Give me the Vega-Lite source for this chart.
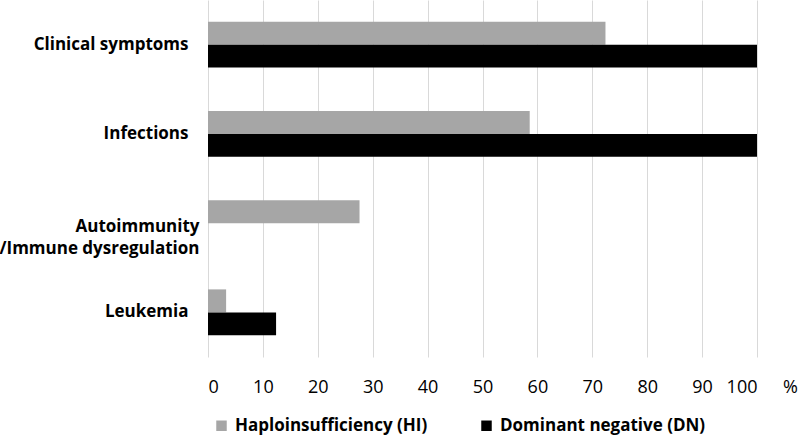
{
  "$schema": "https://vega.github.io/schema/vega-lite/v6.json",
  "width": 549,
  "height": 357,
  "autosize": {"type": "none"},
  "padding": {"left": 208, "top": 0, "right": 43, "bottom": 82},
  "background": "white",
  "config": {
    "view": {"stroke": null},
    "font": "Open Sans"
  },
  "data": {
    "values": [
      {"category": "Clinical symptoms", "series": "Haploinsufficiency (HI)", "value": 72.4},
      {"category": "Clinical symptoms", "series": "Dominant negative (DN)", "value": 100},
      {"category": "Infections", "series": "Haploinsufficiency (HI)", "value": 58.6},
      {"category": "Infections", "series": "Dominant negative (DN)", "value": 100},
      {"category": "Autoimmunity /Immune dysregulation", "series": "Haploinsufficiency (HI)", "value": 27.6},
      {"category": "Autoimmunity /Immune dysregulation", "series": "Dominant negative (DN)", "value": 0},
      {"category": "Leukemia", "series": "Haploinsufficiency (HI)", "value": 3.3},
      {"category": "Leukemia", "series": "Dominant negative (DN)", "value": 12.4}
    ]
  },
  "mark": {"type": "bar"},
  "encoding": {
    "y": {
      "field": "category",
      "type": "nominal",
      "sort": ["Clinical symptoms", "Infections", "Autoimmunity /Immune dysregulation", "Leukemia"],
      "scale": {"paddingInner": 0.485, "paddingOuter": 0.2425},
      "axis": {
        "title": null,
        "domain": false,
        "ticks": false,
        "labelFont": "Open Sans",
        "labelFontWeight": "bold",
        "labelFontSize": 17,
        "labelColor": "#000000",
        "labelLimit": 400,
        "labelLineHeight": 22,
        "labelOffset": {"condition": {"test": "datum.value == 'Autoimmunity /Immune dysregulation'", "value": 4}, "value": 0},
        "labelPadding": {"condition": {"test": "datum.value == 'Autoimmunity /Immune dysregulation'", "value": 9}, "value": 20},
        "labelExpr": "datum.value == 'Autoimmunity /Immune dysregulation' ? ['Autoimmunity\u00a0\u00a0', '/Immune dysregulation'] : datum.label"
      }
    },
    "yOffset": {
      "field": "series",
      "type": "nominal",
      "sort": ["Haploinsufficiency (HI)", "Dominant negative (DN)"],
      "scale": {"paddingInner": 0, "paddingOuter": 0}
    },
    "x": {
      "field": "value",
      "type": "quantitative",
      "scale": {"domain": [0, 100], "nice": false},
      "axis": {
        "values": [0, 10, 20, 30, 40, 50, 60, 70, 80, 90, 100],
        "grid": true,
        "gridColor": "#d9d9d9",
        "gridWidth": 1,
        "domain": false,
        "ticks": false,
        "labelFont": "Open Sans",
        "labelFontSize": 18,
        "labelColor": "#000000",
        "labelBaseline": "middle",
        "labelPadding": 30,
        "title": "%",
        "titleFont": "Open Sans",
        "titleFontSize": 18,
        "titleFontWeight": "normal",
        "titleColor": "#000000",
        "titleX": 582,
        "titleY": 30,
        "titleBaseline": "middle",
        "titleAlign": "center"
      }
    },
    "color": {
      "field": "series",
      "type": "nominal",
      "scale": {"domain": ["Haploinsufficiency (HI)", "Dominant negative (DN)"], "range": ["#a6a6a6", "#000000"]},
      "legend": {
        "title": null,
        "orient": "none",
        "direction": "horizontal",
        "legendX": 5,
        "legendY": 417,
        "symbolType": "square",
        "symbolSize": 110,
        "symbolStrokeWidth": 0,
        "labelFont": "Open Sans",
        "labelFontWeight": "bold",
        "labelFontSize": 17,
        "labelColor": "#000000",
        "labelOffset": 5,
        "columnPadding": 50,
        "labelLimit": 400
      }
    }
  }
}
